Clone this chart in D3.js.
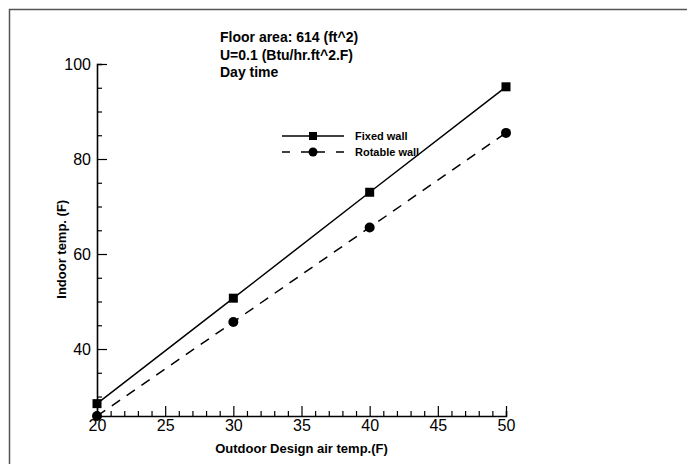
<!DOCTYPE html>
<html>
<head>
<meta charset="utf-8">
<script src="https://cdn.jsdelivr.net/npm/d3@7.9.0/dist/d3.min.js"></script>
<style>
  body { margin: 0; background: #fff; }
  svg { display: block; font-family: "Liberation Sans", Arial, sans-serif; }
</style>
</head>
<body>
<svg id="chart" width="687" height="464"></svg>
<script>
// data
const outdoorTemps = [20, 30, 40, 50];
const fixedWall = [28.5, 50.7, 73.0, 95.2];
const rotableWall = [25.9, 45.7, 65.6, 85.5];
const seriesNames = ['Fixed wall', 'Rotable wall'];
const titleLines = ['Floor area: 614 (ft^2)', 'U=0.1 (Btu/hr.ft^2.F)', 'Day time'];
const xTicks = [20, 25, 30, 35, 40, 45, 50];
const yTicks = [40, 60, 80, 100];

const svg = d3.select('#chart');

// outer frame (only top/left fall inside the picture)
svg.append('rect')
  .attr('x', 9.5).attr('y', 9.5)
  .attr('width', 900).attr('height', 700)
  .attr('fill', 'none')
  .attr('stroke', '#555')
  .attr('stroke-width', 1.5);

const x = d3.scaleLinear().domain([20, 50]).range([97, 506]);
const y = d3.scaleLinear().domain([25.9, 100]).range([416, 64]);

// axes, ticks pointing inward
const xAxis = svg.append('g').attr('transform', `translate(0,${y(25.9)})`)
  .call(d3.axisBottom(x).tickValues(d3.range(20, 51, 1)).tickSize(-5).tickFormat(''));
xAxis.selectAll('.tick line')
  .filter(d => d % 5 === 0)
  .attr('y2', -10);

const xLabels = svg.append('g').attr('transform', `translate(0,${y(25.9)})`)
  .call(d3.axisBottom(x).tickValues(xTicks).tickSize(0).tickPadding(4));
xLabels.select('.domain').remove();

const yAxis = svg.append('g').attr('transform', `translate(${x(20)},0)`)
  .call(d3.axisLeft(y).tickValues(d3.range(30, 101, 5)).tickSize(-5).tickFormat(''));
yAxis.selectAll('.tick line')
  .filter(d => d % 20 === 0)
  .attr('x2', 10);

const yLabels = svg.append('g').attr('transform', `translate(${x(20)},0)`)
  .call(d3.axisLeft(y).tickValues(yTicks).tickSize(0).tickPadding(6));
yLabels.select('.domain').remove();

svg.selectAll('.domain').attr('stroke', '#000').attr('stroke-width', 1.6);
svg.selectAll('.tick line').attr('stroke', '#000').attr('stroke-width', 1.2);
svg.selectAll('.tick text')
  .attr('fill', '#000')
  .style('font-size', '16px');

// series
const fixedData = outdoorTemps.map((t, i) => ({ t, v: fixedWall[i] }));
const rotData = outdoorTemps.map((t, i) => ({ t, v: rotableWall[i] }));
const line = d3.line().x(d => x(d.t)).y(d => y(d.v));

svg.append('path').datum(fixedData)
  .attr('d', line).attr('fill', 'none')
  .attr('stroke', '#000').attr('stroke-width', 1.5);

svg.append('path').datum(rotData)
  .attr('d', line).attr('fill', 'none')
  .attr('stroke', '#000').attr('stroke-width', 1.5)
  .attr('stroke-dasharray', '10,8');

svg.selectAll('.sq').data(fixedData).enter().append('rect')
  .attr('x', d => x(d.t) - 4.5).attr('y', d => y(d.v) - 4.5)
  .attr('width', 9).attr('height', 9).attr('fill', '#000');

svg.selectAll('.dot').data(rotData).enter().append('circle')
  .attr('cx', d => x(d.t)).attr('cy', d => y(d.v))
  .attr('r', 5).attr('fill', '#000');

// legend
const legend = svg.append('g').attr('transform', 'translate(282,136)');
seriesNames.forEach((name, i) => {
  const row = legend.append('g').attr('transform', `translate(0,${i * 16})`);
  row.append('line')
    .attr('x1', 0).attr('x2', 62).attr('y1', 0).attr('y2', 0)
    .attr('stroke', '#000').attr('stroke-width', 1.3)
    .attr('stroke-dasharray', i === 0 ? null : '8,11,24,11,8');
  if (i === 0) {
    row.append('rect').attr('x', 27).attr('y', -4).attr('width', 8).attr('height', 8);
  } else {
    row.append('circle').attr('cx', 31).attr('cy', 0).attr('r', 4.5);
  }
  row.append('text')
    .attr('x', 73).attr('y', 4)
    .style('font-size', '11px').style('font-weight', 'bold')
    .text(name);
});

// annotation
svg.append('g').selectAll('text').data(titleLines).enter().append('text')
  .attr('x', 220).attr('y', (d, i) => 42 + i * 17.5)
  .style('font-size', '14px').style('font-weight', 'bold')
  .text(d => d);

// axis titles
svg.append('text')
  .attr('x', x(35)).attr('y', 453)
  .attr('text-anchor', 'middle')
  .style('font-size', '13px').style('font-weight', 'bold')
  .text('Outdoor Design air temp.(F)');

svg.append('text')
  .attr('transform', `translate(66,${y(61)}) rotate(-90)`)
  .attr('text-anchor', 'middle')
  .style('font-size', '13px').style('font-weight', 'bold')
  .text('Indoor temp. (F)');
</script>
</body>
</html>
